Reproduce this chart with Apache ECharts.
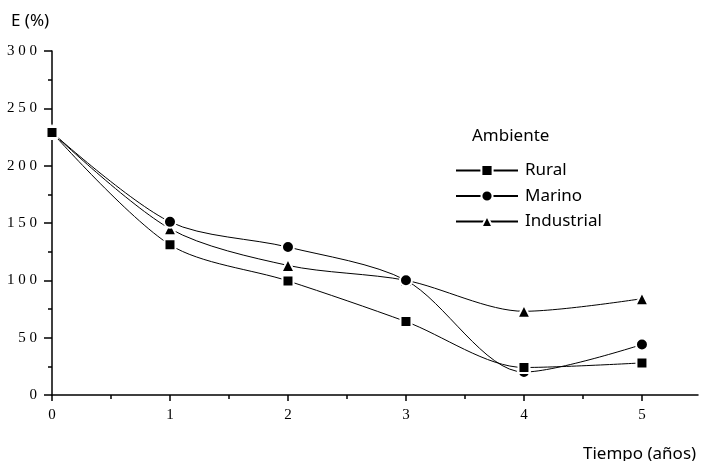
<!DOCTYPE html>
<html>
<head>
<meta charset="utf-8">
<script src="https://cdn.jsdelivr.net/npm/echarts@6/dist/echarts.min.js"></script>
<style>
  html, body { margin: 0; padding: 0; background: #fff; }
  #chart { width: 701px; height: 461px; }
</style>
</head>
<body>
<div id="chart"></div>
<script>
// Years of exposure
const years = [0, 1, 2, 3, 4, 5];
// E (%) per environment
const rural = [229, 131, 99.5, 64, 24, 28];
const marino = [229, 151, 129, 100, 20, 44];
const industrial = [229, 145, 113, 100, 73, 84];

const seriesNames = ['Rural', 'Marino', 'Industrial'];
const xLabels = [0, 1, 2, 3, 4, 5];
const xHalfTicks = [0.5, 1.5, 2.5, 3.5, 4.5];

const pairs = arr => years.map((x, i) => [x, arr[i]]);
const spaced = v => String(v).split('').join(' ');

const chart = echarts.init(document.getElementById('chart'), null, { renderer: 'canvas' });

const lineSeries = (name, data, symbol, size, z) => ({
  name,
  type: 'line',
  data: pairs(data),
  smooth: 0.3,
  symbol,
  symbolSize: size,
  showAllSymbol: true,
  z,
  lineStyle: { color: '#000', width: 1 },
  itemStyle: { color: '#000', borderColor: '#fff', borderWidth: 2 },
  emphasis: { disabled: true }
});

chart.setOption({
  animation: false,
  grid: { left: 52, top: 51, width: 646, height: 344, containLabel: false },
  xAxis: [
    {
      type: 'value', min: 0, max: 5.475,
      axisLine: { lineStyle: { color: '#000', width: 1.5 } },
      axisTick: { customValues: xLabels, length: 6, lineStyle: { color: '#000', width: 1.5 } },
      axisLabel: {
        customValues: xLabels, margin: 13,
        color: '#000', fontFamily: 'Liberation Serif', fontSize: 15
      },
      splitLine: { show: false }
    },
    {
      type: 'value', min: 0, max: 5.475, position: 'bottom',
      axisLine: { show: false },
      axisTick: { customValues: xHalfTicks, length: 4, lineStyle: { color: '#000', width: 1.5 } },
      axisLabel: { show: false },
      splitLine: { show: false }
    }
  ],
  yAxis: [
    {
      type: 'value', min: 0, max: 300, interval: 50,
      axisLine: { show: true, lineStyle: { color: '#000', width: 1.5 } },
      axisTick: { show: true, length: 8, lineStyle: { color: '#000', width: 1.5 } },
      minorTick: { show: true, splitNumber: 2, length: 4, lineStyle: { color: '#000', width: 1.5 } },
      axisLabel: {
        margin: 15, color: '#000', fontFamily: 'Liberation Serif', fontSize: 15,
        formatter: v => spaced(v)
      },
      splitLine: { show: false },
      minorSplitLine: { show: false }
    }
  ],
  legend: {
    orient: 'vertical',
    left: 450, top: 157,
    itemWidth: 62, itemHeight: 14, itemGap: 8.5,
    data: seriesNames,
    textStyle: { fontFamily: 'Noto Sans', fontSize: 17, color: '#000', padding: [0, 0, 0, 2] },
    selectedMode: false
  },
  graphic: [
    { type: 'text', left: 11, top: 13, style: { text: 'E (%)', font: '17px "Noto Sans"', fill: '#000' } },
    { type: 'text', left: 472, top: 128, style: { text: 'Ambiente', font: '17px "Noto Sans"', fill: '#000' } },
    { type: 'text', left: 583, top: 446, style: { text: 'Tiempo (años)', font: '17px "Noto Sans"', fill: '#000' } }
  ],
  series: [
    lineSeries('Industrial', industrial, 'triangle', 13, 2),
    lineSeries('Marino', marino, 'circle', 12, 3),
    lineSeries('Rural', rural, 'rect', 11, 4)
  ]
});
</script>
</body>
</html>
